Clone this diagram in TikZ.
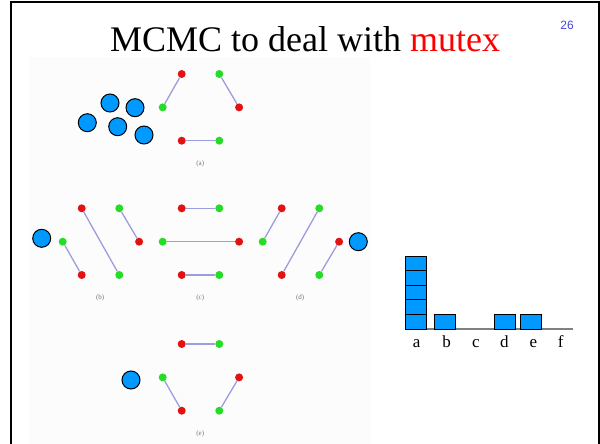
\documentclass[tikz,border=0pt]{standalone}
\usepackage{fontspec}
\setmainfont{Liberation Serif}
\newfontfamily\pagefont{Liberation Sans}
\usetikzlibrary{positioning}
\definecolor{DotRed}{HTML}{E21212}
\definecolor{DotGreen}{HTML}{26DC26}
\definecolor{LinkBlue}{HTML}{9C9CDE}
\definecolor{BallBlue}{HTML}{0099FF}
\definecolor{PageBlue}{HTML}{4646DC}
\tikzset{
  dot/.style={circle,inner sep=0pt,minimum size=8pt},
  link/.style={LinkBlue,line width=1.3pt},
  ball/.style={circle,draw,line width=1pt,fill=BallBlue,inner sep=0pt,minimum size=18pt},
  cell/.style={draw,line width=1pt,fill=BallBlue,inner sep=0pt,minimum width=21.3pt,minimum height=14.6pt},
  panellab/.style={font=\fontsize{7}{8}\selectfont,black!55},
}
\begin{document}
\begin{tikzpicture}[x=1pt,y=-1pt]
\useasboundingbox (0,0) rectangle (600,444);
\fill[white] (0,0) rectangle (600,444);
\fill[black!1] (29,57) rectangle (370,444);
\draw[line width=2.8pt] (11,446) -- (11,2) -- (599,2) -- (599,446);
\node[anchor=base,font=\fontsize{36}{40}\selectfont] (title) at (305,52) {MCMC to deal with \textcolor{red}{mutex}};
\node[font=\pagefont\fontsize{12}{14}\selectfont,PageBlue] (pageno) at (567,25.5) {26};
% five configurations (a)-(e), same dot layout
\foreach \pn/\ox/\oy in {a/181.7/74,b/81.7/208.3,c/181.7/208.3,d/281.7/208.3,e/181.7/344}{
  \foreach \n/\dx/\dy/\col in {tl/0/0/DotRed,tr/37.6/0/DotGreen,ml/-19/33.4/DotGreen,mr/57.4/33.4/DotRed,bl/0/66.7/DotRed,br/37.6/66.7/DotGreen}
    \node[dot,fill=\col] (\pn\n) at (\ox+\dx,\oy+\dy) {};
  \node[panellab] (lab\pn) at (\ox+18.5,\oy+89.5) {(\pn)};
}
\foreach \u/\v in {atl/aml,atr/amr,abl/abr,bml/bbl,btl/bbr,btr/bmr,ctl/ctr,cml/cmr,cbl/cbr,dtl/dml,dtr/dbl,dmr/dbr,etl/etr,eml/ebl,emr/ebr}
  \draw[link] (\u) -- (\v);
% balls
\foreach \i/\x/\y in {1/110/103,2/135/107.7,3/87.3/122.7,4/117.7/126.7,5/144/135,6/41.7/238.3,7/358.3/241.7,8/131/380}
  \node[ball] (ball\i) at (\x,\y) {};
% histogram
\coordinate (axL) at (405,329);
\coordinate (axR) at (573,329);
\draw[gray,line width=1.2pt] (axL) -- (axR);
\foreach \k in {0,...,4}
  \node[cell] (a\k) at (416.3,321.7-14.6*\k) {};
\foreach \n/\x in {b/444.8,d/504.8,e/531}
  \node[cell] (bar\n) at (\x,321.7) {};
\foreach \lab/\x in {a/416.7,b/446.7,c/476,d/504.3,e/533.3,f/560.7}
  \node[anchor=base,font=\fontsize{17}{19}\selectfont,inner sep=0pt] (tick\lab) at (\x,347) {\lab};
\end{tikzpicture}
\end{document}
